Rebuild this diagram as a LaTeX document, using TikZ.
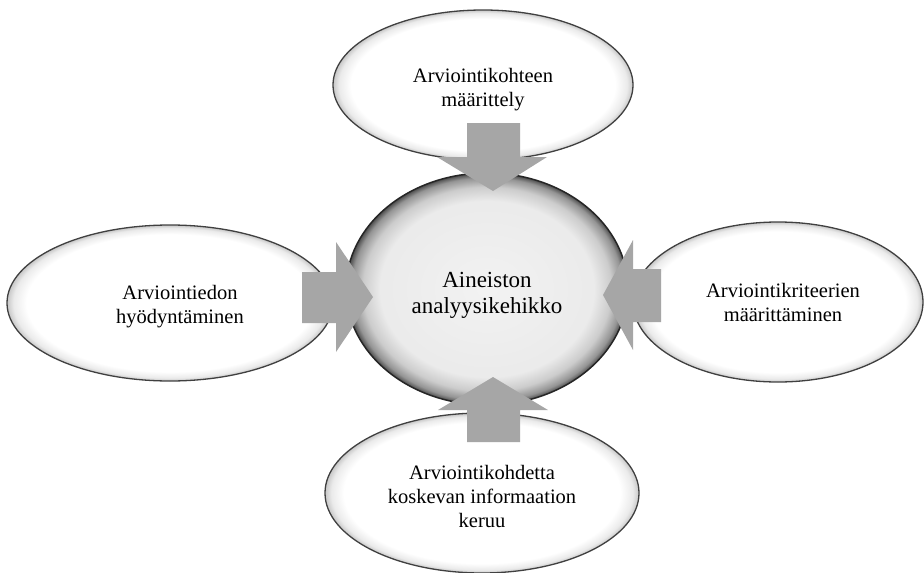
\documentclass[tikz,border=0pt]{standalone}
\usepackage{fontspec}
\setmainfont{Liberation Serif}
\pgfdeclareradialshading{bubble}{\pgfpoint{0bp}{0bp}}{color(0bp)=(black!5); color(19bp)=(black!8); color(22bp)=(black!20); color(24bp)=(black!42); color(25bp)=(black!70); color(50bp)=(black!70)}
\pgfdeclareradialshading{softbubble}{\pgfpoint{0bp}{0bp}}{color(0bp)=(white); color(22bp)=(white); color(24bp)=(black!8); color(25bp)=(black!22); color(50bp)=(black!22)}
\begin{document}
\begin{tikzpicture}[x=1pt,y=-1pt,
  outerellipse/.style={draw=black!75, line width=1.3pt, shading=softbubble},
  outertext/.style={align=center, font=\fontsize{20.5}{24}\selectfont},
  blockarrow/.style={fill=black!35, draw=none}]
\useasboundingbox (0,0) rectangle (924,573);
% outer ellipses
\path[outerellipse] (483,85) ellipse [x radius=150, y radius=75];
\node[outertext] (top) at (483,90) {Arviointikohteen\\määrittely};
\path[outerellipse] (170,303) ellipse [x radius=163, y radius=78];
\node[outertext] (left) at (180,307) {Arviointiedon\\hyödyntäminen};
\path[outerellipse] (778,302) ellipse [x radius=145, y radius=80];
\node[outertext] (right) at (783,302) {Arviointikriteerien\\määrittäminen};
\path[outerellipse] (482,493) ellipse [x radius=157, y radius=80];
\node[outertext] (bottom) at (482,496) {Arviointikohdetta\\koskevan informaation\\keruu};
% center ellipse
\path[draw=black!85, line width=1.5pt, shading=bubble] (487,289) ellipse [x radius=141, y radius=116];
\node[align=center, font=\fontsize{23}{26}\selectfont] (center) at (487,295) {Aineiston\\analyysikehikko};
% block arrows
\fill[blockarrow] (467,123) -- (520,123) -- (520,157) -- (547,157) -- (493,191) -- (437,157) -- (467,157) -- cycle;
\fill[blockarrow] (467,442) -- (520,442) -- (520,410) -- (548,410) -- (493,377) -- (438,410) -- (467,410) -- cycle;
\fill[blockarrow] (302,272) -- (336,272) -- (336,242) -- (373,297) -- (336,352) -- (336,323) -- (302,323) -- cycle;
\fill[blockarrow] (661,269) -- (633,269) -- (633,240) -- (603,295) -- (633,350) -- (633,322) -- (661,322) -- cycle;
\end{tikzpicture}
\end{document}
